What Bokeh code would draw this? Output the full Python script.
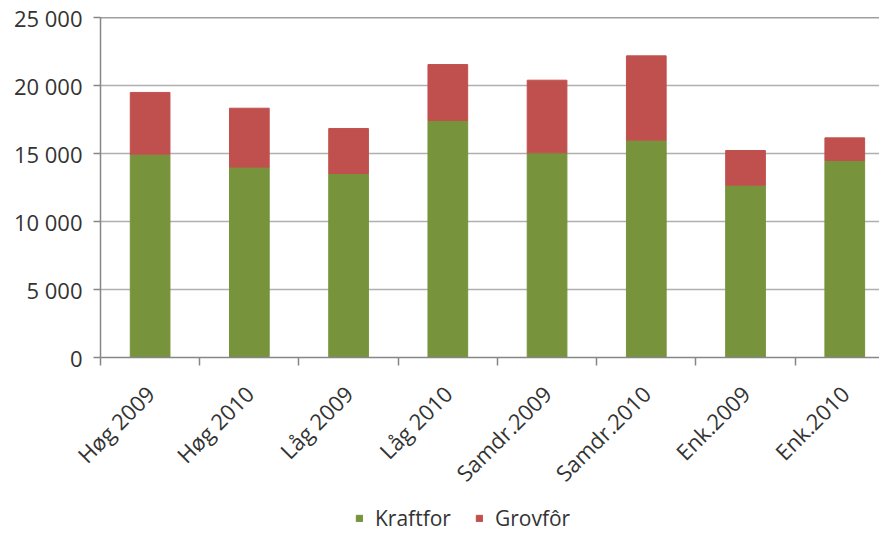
import math
from bokeh.plotting import figure
from bokeh.layouts import column
from bokeh.models import (ColumnDataSource, FixedTicker, Range1d, Legend, LegendItem, Span)
from bokeh.embed import file_html
from bokeh.resources import INLINE

categories = ["Høg 2009", "Høg 2010", "Låg 2009", "Låg 2010",
              "Samdr.2009", "Samdr.2010", "Enk.2009", "Enk.2010"]
kraftfor = [14950, 14000, 13530, 17430, 15050, 15980, 12670, 14490]
grovfor = [4540, 4330, 3310, 4110, 5340, 6200, 2550, 1660]
series_names = ["Kraftfor", "Grovfôr"]
series_colors = ["#77933C", "#C0504D"]
y_ticks = [0, 5000, 10000, 15000, 20000, 25000]
y_tick_labels = ["0", "5 000", "10 000", "15 000", "20 000", "25 000"]

FONT = "Open Sans"
TXT = "#333333"

xpos = [i + 0.5 for i in range(len(categories))]
source = ColumnDataSource(dict(x=xpos, Kraftfor=kraftfor, Grovfor=grovfor))

p = figure(width=879, height=504, output_backend="svg", toolbar_location=None,
           x_range=Range1d(0, 7.85), y_range=Range1d(0, 25000),
           min_border_left=100, min_border_top=17, min_border_right=0,
           min_border_bottom=147)
p.outline_line_color = None

r = p.vbar_stack(["Kraftfor", "Grovfor"], x="x", width=0.4, source=source,
                 color=series_colors, line_color=series_colors)

# y axis
p.yaxis.ticker = FixedTicker(ticks=y_ticks)
p.yaxis.major_label_overrides = {t: l for t, l in zip(y_ticks, y_tick_labels)}
p.yaxis.major_label_text_font = FONT
p.yaxis.major_label_text_font_size = "22px"
p.yaxis.major_label_text_color = TXT
p.yaxis.axis_line_color = "#868686"
p.yaxis.axis_line_width = 1.5
p.yaxis.major_tick_line_color = "#868686"
p.yaxis.major_tick_line_width = 1.5
p.yaxis.major_tick_in = 0
p.yaxis.major_tick_out = 7
p.yaxis.minor_tick_line_color = None
p.yaxis.major_label_standoff = 11

# x axis
p.xaxis.ticker = FixedTicker(ticks=xpos, minor_ticks=list(range(len(categories) + 1)))
p.xaxis.major_label_overrides = {x: c for x, c in zip(xpos, categories)}
p.xaxis.major_label_orientation = math.pi / 4
p.xaxis.major_label_text_font = FONT
p.xaxis.major_label_text_font_size = "22px"
p.xaxis.major_label_text_color = TXT
p.xaxis.major_tick_line_color = None
p.xaxis.major_tick_out = 0
p.xaxis.major_tick_in = 0
p.xaxis.minor_tick_line_color = "#868686"
p.xaxis.minor_tick_line_width = 1.5
p.xaxis.minor_tick_in = 0
p.xaxis.minor_tick_out = 8
p.xaxis.axis_line_color = "#868686"
p.xaxis.axis_line_width = 1.5
p.xaxis.major_label_standoff = 24

p.xgrid.grid_line_color = None
p.ygrid.grid_line_color = "#b0b0b0"
p.ygrid.grid_line_width = 1.5
p.add_layout(Span(location=25000, dimension="width", line_color="#404040", line_width=1.5))

# legend strip (its renderers are hidden; only the legend shows)
lg = figure(width=879, height=28, output_backend="svg", toolbar_location=None,
            x_range=Range1d(0, 1), y_range=Range1d(0, 1),
            x_axis_location=None, y_axis_location=None,
            min_border_left=0, min_border_right=0, min_border_top=0, min_border_bottom=0)
lg.grid.visible = False
lg.outline_line_color = None
lr = lg.vbar_stack(["Kraftfor", "Grovfor"], x="x", width=0.4, source=source,
                   color=series_colors, line_color=series_colors)
for rr in lr:
    rr.visible = False
legend = Legend(items=[LegendItem(label=n, renderers=[rr]) for n, rr in zip(series_names, lr)],
                orientation="horizontal", location=(255, 0))
legend.label_text_font = FONT
legend.label_text_font_size = "21px"
legend.label_text_color = TXT
legend.glyph_width = 8
legend.glyph_height = 8
legend.label_standoff = 12
legend.spacing = 24
legend.border_line_color = None
legend.background_fill_alpha = 0
legend.inactive_fill_alpha = 0
legend.margin = 0
legend.padding = 0
lg.add_layout(legend, "center")

open("out.html", "w").write(file_html(column(p, lg), INLINE))
